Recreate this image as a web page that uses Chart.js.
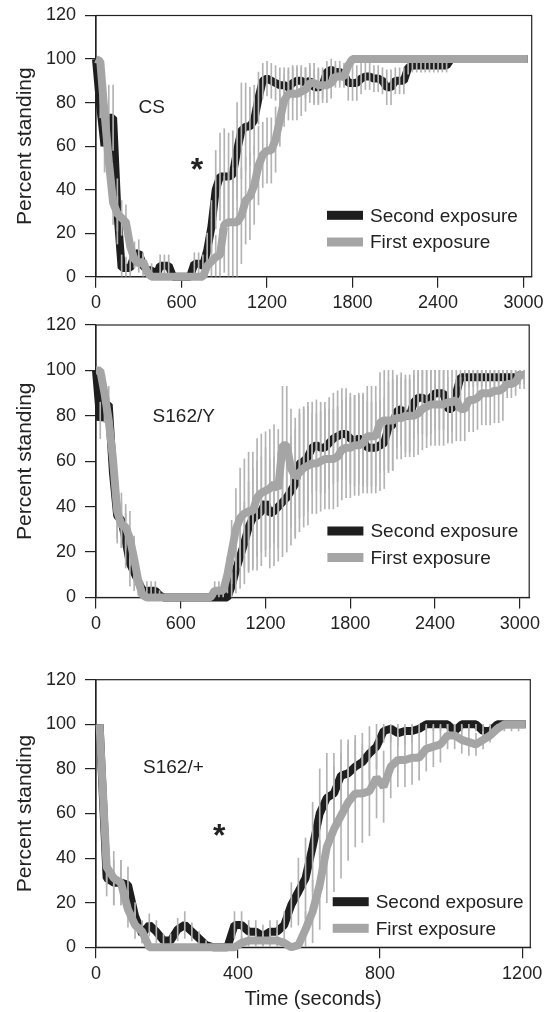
<!DOCTYPE html>
<html>
<head>
<meta charset="utf-8">
<title>Percent standing – first and second exposure</title>
<script src="https://cdn.jsdelivr.net/npm/chart.js@4.4.1/dist/chart.umd.min.js"></script>
<style>
    html, body { margin: 0; padding: 0; background: #fff; }
    body { position: relative; width: 555px; height: 1012px; overflow: hidden; }
    canvas { position: absolute; left: 0; }
</style>
</head>
<body>
<canvas id="panelCS"></canvas>
<canvas id="panelY"></canvas>
<canvas id="panelPlus"></canvas>
<script>
    'use strict';

    // ---- data -------------------------------------------------------------
    // time (s) of each sample, panels CS and S162/Y
    const longTimes = [
        0, 30, 60, 90, 120, 150, 180, 210, 240, 270,
        300, 330, 360, 390, 420, 450, 480, 510, 540, 570,
        600, 630, 660, 690, 720, 750, 780, 810, 840, 870,
        900, 930, 960, 990, 1020, 1050, 1080, 1110, 1140, 1170,
        1200, 1230, 1260, 1290, 1320, 1350, 1380, 1410, 1440, 1470,
        1500, 1530, 1560, 1590, 1620, 1650, 1680, 1710, 1740, 1770,
        1800, 1830, 1860, 1890, 1920, 1950, 1980, 2010, 2040, 2070,
        2100, 2130, 2160, 2190, 2220, 2250, 2280, 2310, 2340, 2370,
        2400, 2430, 2460, 2490, 2520, 2550, 2580, 2610, 2640, 2670,
        2700, 2730, 2760, 2790, 2820, 2850, 2880, 2910, 2940, 2970,
        3000, 3030
    ];
    // time (s) of each sample, panel S162/+
    const shortTimes = [
        10, 30, 50, 70, 90, 110, 130, 150, 170, 190,
        210, 230, 250, 270, 290, 310, 330, 350, 370, 390,
        410, 430, 450, 470, 490, 510, 530, 550, 570, 590,
        610, 630, 650, 670, 690, 710, 730, 750, 770, 790,
        810, 830, 850, 870, 890, 910, 930, 950, 970, 990,
        1010, 1030, 1050, 1070, 1090, 1110, 1130, 1150, 1170, 1190,
        1210
    ];

    const longTicks = [0, 600, 1200, 1800, 2400, 3000];
    const shortTicks = [0, 400, 800, 1200];
    const yTicks = [0, 20, 40, 60, 80, 100, 120];

    // CS
    const csSecond = [
        100, 78, 60, 73, 73, 30, 4, 4, 4, 10,
        11, 5, 3, 3, 0, 5, 5, 5, 0, 0,
        0, 0, 0, 6, 6, 5, 12, 23, 40, 46,
        46, 46, 47, 58, 67, 69, 69, 72, 82, 90,
        91, 90, 89, 88, 88, 87, 89, 90, 90, 89,
        90, 87, 87, 88, 94, 95, 94, 94, 93, 89,
        89, 89, 91, 92, 92, 91, 91, 90, 87, 87,
        90, 90, 90, 96, 97, 97, 97, 97, 97, 97,
        97, 97, 97, 100, 100, 100, 100, 100, 100, 100,
        100, 100, 100, 100, 100, 100, 100, 100, 100, 100,
        100, 100
    ];
    const csSecondErr = [
        0, 5, 12, 15, 15, 15, 6, 5, 5, 6,
        6, 5, 3, 3, 0, 5, 5, 5, 0, 0,
        0, 0, 0, 5, 5, 5, 8, 12, 18, 20,
        22, 20, 20, 22, 22, 20, 18, 16, 12, 8,
        8, 8, 8, 8, 8, 8, 8, 7, 7, 7,
        7, 8, 8, 6, 5, 5, 5, 5, 5, 8,
        8, 8, 7, 6, 6, 6, 6, 6, 8, 8,
        6, 6, 6, 3, 3, 3, 3, 3, 3, 3,
        3, 3, 3, 0, 0, 0, 0, 0, 0, 0,
        0, 0, 0, 0, 0, 0, 0, 0, 0, 0,
        0, 0
    ];
    const csFirst = [
        100, 99, 75, 53, 34, 29, 27, 25, 14, 8,
        6, 7, 2, 0, 0, 0, 0, 0, 0, 0,
        0, 0, 0, 0, 0, 0, 5, 7, 9, 10,
        24, 25, 25, 25, 28, 35, 37, 42, 51, 56,
        58, 58, 63, 72, 81, 84, 84, 84, 85, 86,
        89, 89, 88, 88, 88, 89, 92, 92, 92, 97,
        100, 100, 100, 100, 100, 100, 100, 100, 100, 100,
        100, 100, 100, 100, 100, 100, 100, 100, 100, 100,
        100, 100, 100, 100, 100, 100, 100, 100, 100, 100,
        100, 100, 100, 100, 100, 100, 100, 100, 100, 100,
        100, 100
    ];
    const csFirstErr = [
        0, 2, 10, 12, 10, 8, 8, 8, 6, 4,
        4, 4, 2, 0, 0, 0, 0, 0, 0, 0,
        0, 0, 0, 0, 0, 0, 5, 8, 10, 12,
        22, 25, 25, 25, 22, 20, 20, 18, 18, 15,
        15, 15, 15, 12, 12, 12, 12, 12, 11, 10,
        9, 9, 8, 8, 8, 7, 5, 5, 5, 3,
        0, 0, 0, 0, 0, 0, 0, 0, 0, 0,
        0, 0, 0, 0, 0, 0, 0, 0, 0, 0,
        0, 0, 0, 0, 0, 0, 0, 0, 0, 0,
        0, 0, 0, 0, 0, 0, 0, 0, 0, 0,
        0, 0
    ];

    // S162/Y
    const yySecond = [
        100, 78, 85, 85, 55, 36, 34, 25, 15, 11,
        7, 3, 3, 3, 3, 1, 0, 0, 0, 0,
        0, 0, 0, 0, 0, 0, 0, 0, 0, 0,
        0, 0, 5, 12, 18, 24, 31, 35, 36, 38,
        42, 37, 38, 40, 42, 44, 47, 50, 59, 60,
        62, 66, 67, 66, 66, 68, 70, 71, 72, 72,
        70, 69, 70, 69, 66, 66, 66, 67, 68, 75,
        76, 82, 83, 80, 80, 86, 88, 88, 87, 88,
        90, 90, 90, 83, 83, 90, 97, 97, 97, 97,
        97, 97, 97, 97, 97, 97, 97, 97, 97, 97,
        98, 98
    ];
    const yySecondErr = [
        0, 8, 8, 8, 10, 12, 12, 12, 10, 8,
        6, 4, 4, 4, 4, 2, 0, 0, 0, 0,
        0, 0, 0, 0, 0, 0, 0, 0, 0, 0,
        0, 0, 6, 10, 14, 18, 20, 22, 24, 24,
        24, 24, 24, 24, 24, 24, 24, 24, 24, 24,
        24, 20, 20, 20, 20, 20, 20, 20, 20, 20,
        20, 20, 20, 20, 20, 20, 20, 20, 20, 20,
        20, 16, 16, 16, 16, 16, 16, 16, 16, 16,
        16, 16, 16, 14, 10, 6, 4, 4, 4, 4,
        4, 4, 4, 4, 4, 4, 4, 4, 4, 4,
        4, 4
    ];
    const yyFirst = [
        100, 100, 90, 78, 61, 38, 32, 31, 26, 17,
        7, 1, 0, 0, 0, 0, 0, 0, 0, 0,
        0, 0, 0, 0, 0, 0, 0, 0, 3, 3,
        3, 10, 20, 30, 35, 37, 38, 38, 44, 46,
        47, 48, 50, 48, 67, 67, 57, 53, 55, 57,
        58, 59, 59, 60, 61, 61, 61, 62, 65, 66,
        66, 67, 67, 68, 71, 71, 71, 77, 78, 78,
        78, 79, 79, 80, 80, 80, 81, 83, 84, 85,
        85, 85, 85, 86, 86, 87, 83, 83, 87, 87,
        88, 90, 90, 90, 91, 91, 92, 94, 94, 95,
        98, 98
    ];
    const yyFirstErr = [
        0, 3, 8, 10, 12, 12, 10, 10, 12, 10,
        6, 2, 0, 0, 0, 0, 0, 0, 0, 0,
        0, 0, 0, 0, 0, 0, 0, 0, 4, 4,
        4, 8, 14, 18, 22, 24, 26, 26, 26, 26,
        26, 26, 26, 26, 26, 26, 26, 26, 26, 26,
        26, 22, 22, 22, 22, 22, 22, 22, 22, 22,
        22, 22, 22, 22, 22, 22, 22, 22, 22, 22,
        22, 18, 18, 18, 18, 18, 18, 18, 18, 18,
        18, 18, 18, 18, 18, 18, 14, 14, 14, 14,
        14, 14, 14, 14, 14, 14, 14, 6, 6, 6,
        6, 6
    ];

    // S162/+
    const plusSecond = [
        100, 31, 29, 29, 28, 14, 6, 10, 7, 3,
        3, 8, 10, 7, 4, 1, 0, 0, 0, 10,
        10, 7, 7, 5, 7, 7, 10, 19, 25, 31,
        45, 60, 67, 69, 77, 78, 81, 83, 87, 90,
        97, 98, 96, 97, 97, 98, 100, 100, 100, 100,
        97, 100, 100, 100, 97, 97, 100, 100, 100, 100,
        100
    ];
    const plusSecondErr = [
        0, 8, 10, 10, 8, 6, 4, 5, 5, 3,
        3, 5, 6, 4, 3, 2, 0, 0, 0, 6,
        6, 5, 5, 5, 5, 5, 6, 10, 15, 18,
        20, 20, 20, 18, 16, 15, 14, 13, 12, 10,
        5, 6, 6, 6, 5, 3, 3, 3, 3, 3,
        3, 3, 3, 3, 3, 3, 3, 3, 3, 3,
        0
    ];
    const plusFirst = [
        100, 36, 31, 29, 17, 10, 7, 0, 0, 0,
        0, 0, 0, 0, 0, 0, 0, 0, 0, 0,
        2, 3, 3, 3, 3, 3, 2, 0, 1, 8,
        16, 28, 45, 53, 59, 65, 69, 69, 70, 76,
        72, 81, 84, 84, 85, 85, 89, 90, 91, 95,
        95, 93, 92, 91, 93, 95, 98, 100, 100, 100,
        100
    ];
    const plusFirstErr = [
        0, 8, 12, 10, 8, 6, 5, 0, 0, 0,
        0, 0, 0, 0, 0, 0, 0, 0, 0, 0,
        3, 3, 3, 3, 3, 3, 2, 0, 3, 8,
        14, 20, 25, 28, 28, 26, 24, 22, 20, 18,
        16, 14, 12, 12, 12, 10, 10, 9, 8, 6,
        6, 6, 6, 5, 4, 3, 1, 0, 0, 0,
        0
    ];

    // ---- styling ----------------------------------------------------------
    const SECOND_COLOR = '#1e1e1e';
    const FIRST_COLOR = '#a5a5a5';
    const ERR_COLOR = '#b3b3b3';
    const INK = '#222';
    const FONT = "'Liberation Sans', Arial, Helvetica, sans-serif";

    Chart.defaults.font.family = FONT;
    Chart.defaults.color = INK;

    function toPoints(times, values) {
        return times.map((t, i) => ({ x: t, y: values[i] }));
    }

    function toBars(times, values, errs) {
        const out = [];
        times.forEach((t, i) => {
            if (!errs[i]) return;
            out.push({ x: t, y: [Math.max(0, values[i] - errs[i]), Math.min(100, values[i] + errs[i])] });
        });
        return out;
    }

    // frame, in-plot labels and the legend box
    const panelDecor = {
        id: 'panelDecor',
        beforeDatasetsDraw(chart) {
            const { ctx, chartArea: a } = chart;
            ctx.save();
            ctx.strokeStyle = INK;
            ctx.lineWidth = 1.2;
            ctx.strokeRect(a.left, a.top, a.right - a.left, a.bottom - a.top);
            ctx.restore();
        },
        afterDatasetsDraw(chart, args, opts) {
            const { ctx, scales: { x, y } } = chart;
            ctx.save();
            ctx.fillStyle = INK;
            ctx.textAlign = 'center';
            ctx.textBaseline = 'alphabetic';
            (opts.labels || []).forEach(l => {
                ctx.font = l.font;
                const m = ctx.measureText(l.text);
                const px = x.getPixelForValue(l.t);
                const py = y.getPixelForValue(l.v);
                ctx.fillText(l.text, px, py + (m.actualBoundingBoxAscent - m.actualBoundingBoxDescent) / 2);
            });

            const lg = opts.legend;
            if (lg) {
                ctx.font = '19px ' + FONT;
                ctx.textAlign = 'left';
                ctx.textBaseline = 'middle';
                lg.items.forEach((item, i) => {
                    const rowY = lg.rows[i] - opts.top;
                    ctx.fillStyle = item.color;
                    ctx.fillRect(lg.x, rowY - 4.5, 36, 9);
                    ctx.fillStyle = INK;
                    ctx.fillText(item.text, lg.x + 43, rowY + 1);
                });
            }
            ctx.restore();
        }
    };

    const legendItems = [
        { text: 'Second exposure', color: SECOND_COLOR },
        { text: 'First exposure', color: FIRST_COLOR }
    ];

    const panels = [
        {
            id: 'panelCS', top: -10, height: 330, padTop: 25.5, padRight: 23.3, xHeight: 43.3,
            xMax: 3057, xTicks: longTicks, times: longTimes,
            second: csSecond, secondErr: csSecondErr, first: csFirst, firstErr: csFirstErr,
            labels: [
                { text: 'CS', t: 391, v: 78.3, font: '19px ' + FONT },
                { text: '*', t: 709, v: 51.6, font: 'bold 32px ' + FONT }
            ],
            legend: { x: 327, rows: [215.3, 242], items: legendItems },
            xTitle: null
        },
        {
            id: 'panelY', top: 300, height: 345, padTop: 25, padRight: 25.8, xHeight: 47.5,
            xMax: 3066, xTicks: longTicks, times: longTimes,
            second: yySecond, secondErr: yySecondErr, first: yyFirst, firstErr: yyFirstErr,
            labels: [
                { text: 'S162/Y', t: 621, v: 80, font: '19px ' + FONT }
            ],
            legend: { x: 327.4, rows: [531, 557.5], items: legendItems },
            xTitle: null
        },
        {
            id: 'panelPlus', top: 640, height: 372, padTop: 39.7, padRight: 24.7, xHeight: 64.7,
            xMax: 1223, xTicks: shortTicks, times: shortTimes,
            second: plusSecond, secondErr: plusSecondErr, first: plusFirst, firstErr: plusFirstErr,
            labels: [
                { text: 'S162/+', t: 218, v: 81.2, font: '19px ' + FONT },
                { text: '*', t: 347, v: 52.5, font: 'bold 32px ' + FONT }
            ],
            legend: { x: 332.7, rows: [901.7, 928.3], items: legendItems },
            xTitle: 'Time (seconds)'
        }
    ];

    function makePanel(p) {
        const canvas = document.getElementById(p.id);
        canvas.width = 555;
        canvas.height = p.height;
        canvas.style.top = p.top + 'px';

        const axisCommon = {
            grid: { drawOnChartArea: false, drawTicks: true, tickLength: 11, color: INK, lineWidth: 1.2, offset: false },
            border: { display: true, color: INK, width: 1.2 }
        };

        return new Chart(canvas, {
            type: 'line',
            data: {
                datasets: [
                    {
                        type: 'line',
                        label: 'Second exposure',
                        data: toPoints(p.times, p.second),
                        borderColor: SECOND_COLOR,
                        borderWidth: 8,
                        borderJoinStyle: 'bevel',
                        pointRadius: 0,
                        tension: 0,
                        clip: false,
                        order: 3
                    },
                    {
                        type: 'bar',
                        label: 'Second exposure SEM',
                        data: toBars(p.times, p.second, p.secondErr),
                        backgroundColor: ERR_COLOR,
                        borderWidth: 0,
                        barThickness: 1,
                        grouped: false,
                        clip: false,
                        order: 2
                    },
                    {
                        type: 'bar',
                        label: 'First exposure SEM',
                        data: toBars(p.times, p.first, p.firstErr),
                        backgroundColor: ERR_COLOR,
                        borderWidth: 0,
                        barThickness: 1,
                        grouped: false,
                        clip: false,
                        order: 1
                    },
                    {
                        type: 'line',
                        label: 'First exposure',
                        data: toPoints(p.times, p.first),
                        borderColor: FIRST_COLOR,
                        borderWidth: 8,
                        borderJoinStyle: 'bevel',
                        pointRadius: 0,
                        tension: 0,
                        clip: false,
                        order: 0
                    }
                ]
            },
            options: {
                responsive: false,
                animation: false,
                events: [],
                layout: { padding: { top: p.padTop, right: p.padRight, left: 0, bottom: 0 } },
                plugins: {
                    legend: { display: false },
                    tooltip: { enabled: false },
                    panelDecor: { labels: p.labels, legend: p.legend, top: p.top }
                },
                scales: {
                    x: Object.assign({}, axisCommon, {
                        type: 'linear',
                        min: 0,
                        max: p.xMax,
                        offset: false,
                        afterBuildTicks: s => { s.ticks = p.xTicks.map(v => ({ value: v })); },
                        afterFit: s => { s.height = p.xHeight; },
                        ticks: {
                            color: INK, font: { size: 18 }, padding: 5,
                            maxRotation: 0, autoSkip: false,
                            callback: v => String(v)
                        },
                        title: {
                            display: !!p.xTitle,
                            text: p.xTitle || '',
                            color: INK,
                            font: { size: 20 },
                            padding: { top: 0, bottom: 1 }
                        }
                    }),
                    y: Object.assign({}, axisCommon, {
                        type: 'linear',
                        min: 0,
                        max: 120,
                        afterBuildTicks: s => { s.ticks = yTicks.map(v => ({ value: v })); },
                        afterFit: s => { s.width = 96; },
                        ticks: {
                            color: INK, font: { size: 18 }, padding: 9,
                            callback: v => String(v)
                        },
                        title: {
                            display: true,
                            text: 'Percent standing',
                            color: INK,
                            font: { size: 21 },
                            padding: { top: 13, bottom: 0 }
                        }
                    })
                }
            },
            plugins: [panelDecor]
        });
    }

    panels.forEach(makePanel);
</script>
</body>
</html>
